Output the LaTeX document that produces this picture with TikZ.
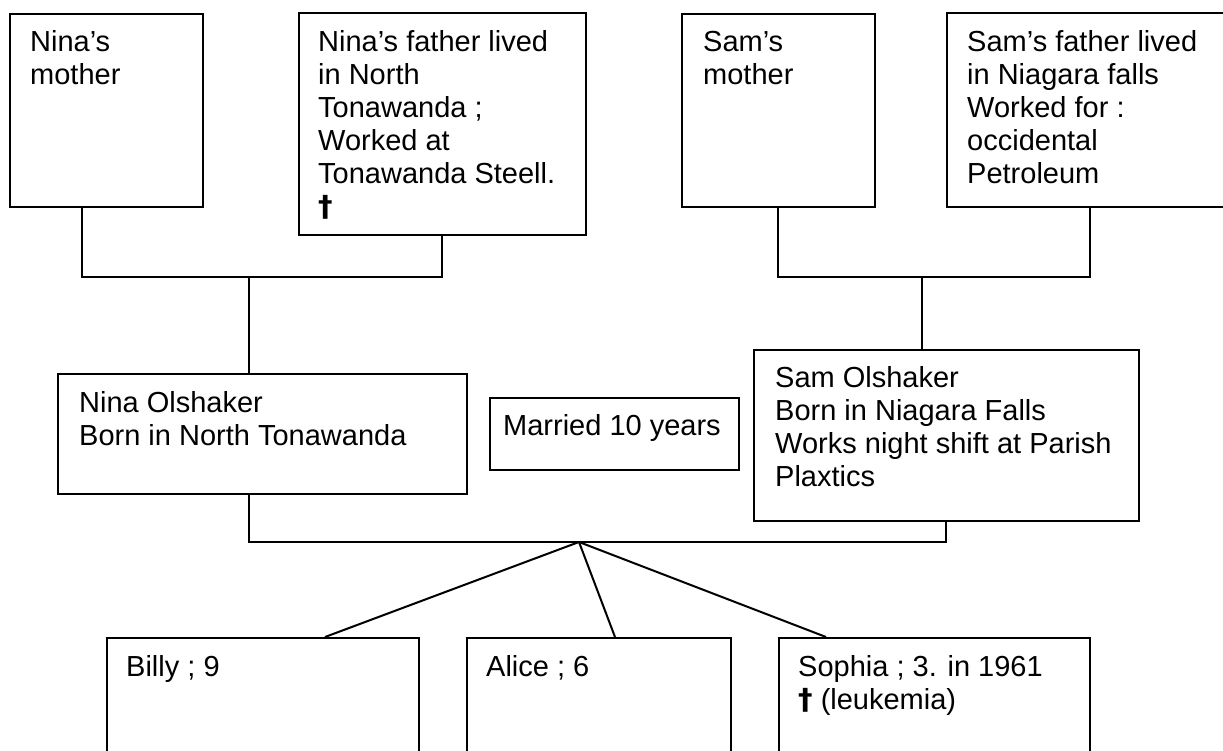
\documentclass[tikz,border=0pt]{standalone}
\usepackage{fontspec}
\setmainfont{Liberation Sans}
\newfontfamily\dagfont{DejaVu Sans}
\usetikzlibrary{calc}
\tikzset{
  famBox/.style={draw=black, line width=2pt, rectangle, inner sep=0pt, anchor=north west},
  famText/.style={anchor=base west, inner sep=0pt, font=\fontsize{29}{33}\selectfont},
  conn/.style={draw=black, line width=2pt}
}
\newcommand{\famlines}[1]{\parbox[t]{420pt}{\raggedright #1}}
\newcommand{\famdag}{{\dagfont\bfseries †}}
\begin{document}
\begin{tikzpicture}[x=1pt,y=-1pt]
\useasboundingbox (0,0) rectangle (1223,751);
\fill[white] (0,0) rectangle (1223,751);
\clip (0,0) rectangle (1223,751);
% top row
\node[famBox, minimum width=193pt, minimum height=193pt] (nm) at (9,13) {};
\node[famBox, minimum width=287pt, minimum height=222pt] (nf) at (298,12) {};
\node[famBox, minimum width=193pt, minimum height=193pt] (sm) at (681,13) {};
\node[famBox, minimum width=330pt, minimum height=194pt] (sf) at (946,12) {};
% middle row
\node[famBox, minimum width=409pt, minimum height=120pt] (no) at (57,373) {};
\node[famBox, minimum width=249pt, minimum height=72pt] (ma) at (489,397) {};
\node[famBox, minimum width=385pt, minimum height=171pt] (so) at (753,349) {};
% bottom row
\node[famBox, minimum width=312pt, minimum height=180pt] (billy) at (106,637) {};
\node[famBox, minimum width=264pt, minimum height=180pt] (alice) at (466,637) {};
\node[famBox, minimum width=311pt, minimum height=180pt] (sophia) at (778,637) {};
% texts
\node[famText] (nmt) at ($(nm.north west)+(21,39)$) {\famlines{Nina’s\\mother}};
\node[famText] (nft) at ($(nf.north west)+(20,40)$) {\famlines{Nina’s father lived\\in North\\Tonawanda ;\\Worked at\\Tonawanda Steell.\\\famdag}};
\node[famText] (smt) at ($(sm.north west)+(22,39)$) {\famlines{Sam’s\\mother}};
\node[famText] (sft) at ($(sf.north west)+(21,40)$) {\famlines{Sam’s father lived\\in Niagara falls\\Worked for :\\occidental\\Petroleum}};
\node[famText] (not) at ($(no.north west)+(22,39)$) {\famlines{Nina Olshaker\\Born in North Tonawanda}};
\node[famText] (mat) at ($(ma.north west)+(14,38)$) {\famlines{Married 10 years}};
\node[famText] (sot) at ($(so.north west)+(22,38)$) {\famlines{Sam Olshaker\\Born in Niagara Falls\\Works night shift at Parish\\Plaxtics}};
\node[famText] (billyt) at ($(billy.north west)+(20,39)$) {\famlines{Billy ; 9}};
\node[famText] (alicet) at ($(alice.north west)+(20,39)$) {\famlines{Alice ; 6}};
\node[famText] (sophiat) at ($(sophia.north west)+(20,39)$) {\famlines{Sophia ; 3. in 1961\\\famdag{} (leukemia)}};
% junctions
\coordinate (nj) at (249,277);
\coordinate (sj) at (922,277);
\coordinate (cj) at (579,542);
% connectors
\draw[conn] ([xshift=73pt]nm.south west) |- (nj) -| ([xshift=144pt]nf.south west);
\draw[conn] (nj) -- (nj |- no.north);
\draw[conn] ([xshift=97pt]sm.south west) |- (sj) -| ([xshift=144pt]sf.south west);
\draw[conn] (sj) -- (sj |- so.north);
\draw[conn] (nj |- no.south) |- (cj) -| ([xshift=193pt]so.south west);
\draw[conn] (cj) -- ([xshift=219pt]billy.north west);
\draw[conn] (cj) -- ([xshift=149pt]alice.north west);
\draw[conn] (cj) -- ([xshift=48pt]sophia.north west);
\end{tikzpicture}
\end{document}
